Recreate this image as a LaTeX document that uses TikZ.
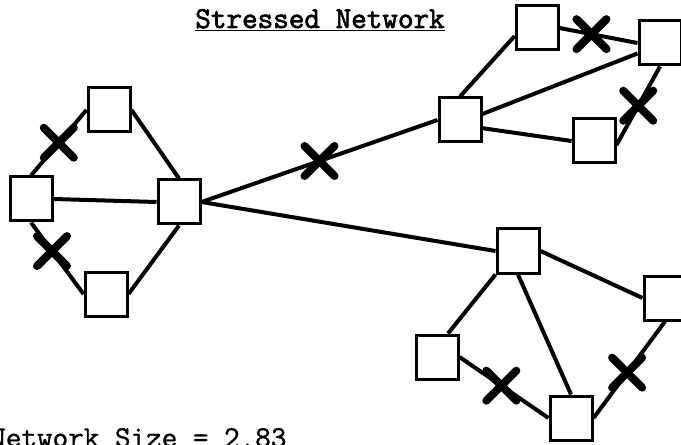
\documentclass[tikz,border=0pt]{standalone}
\usepackage{fontspec}
\newfontfamily\titlefont[FakeBold=2.2]{Latin Modern Mono}
\newfontfamily\notefont[FakeBold=1.2]{Latin Modern Mono}
\usetikzlibrary{shapes.misc}
\begin{document}
\begin{tikzpicture}[x=0.75pt,y=-0.75pt,
  site/.style={draw, line width=2.25pt, minimum width=31.5pt, minimum height=33pt, inner sep=0pt, fill=white},
  link/.style={line width=3pt},
  cut/.style={cross out, draw, line width=6pt, line cap=round, minimum size=16.5pt, inner sep=0pt},
  label/.style={inner sep=0pt}
  ]
\useasboundingbox (0,0) rectangle (681,445);
\clip (0,0) rectangle (681,445);

% left cluster
\node[site] (TL) at (109,110) {};
\node[site] (L)  at (31,199) {};
\node[site] (C)  at (179,202) {};
\node[site] (LB) at (106,294) {};

% upper right cluster
\node[site] (A)  at (537,28) {};
\node[site] (B)  at (660,43) {};
\node[site] (M)  at (460,120) {};
\node[site] (D)  at (594,141) {};

% lower right cluster
\node[site] (E)  at (518,251) {};
\node[site] (F)  at (665,298) {};
\node[site] (G)  at (437,357) {};
\node[site] (H)  at (571,418) {};

% links (stressed ones carry a cross)
\draw[link] (L.north) -- node[cut, pos=0.5] (x1) {} (TL.west);
\draw[link] (L.east) -- (C.west);
\draw[link] (L.south) -- node[cut, pos=0.4] (x2) {} (LB.west);
\draw[link] (TL.east) -- (C.north);
\draw[link] (LB.east) -- (C.south);

\draw[link] (C.east) -- node[cut, pos=0.5] (x3) {} (M.west);
\draw[link] (C.east) -- (E.west);

\draw[link] (M.north) -- (A.200);
\draw[link] (M.15) -- (B.205);
\draw[link] (M.340) -- (D.west);
\draw[link] (A.east) -- node[cut, pos=0.41] (x4) {} (B.west);
\draw[link] (D.350) -- node[cut, pos=0.5] (x5) {} (B.south);

\draw[link] (E.east) -- (F.west);
\draw[link] (E.south west) -- (G.65);
\draw[link] (E.south) -- (H.north);
\draw[link] (G.east) -- node[cut, pos=0.47] (x6) {} (H.west);
\draw[link] (H.east) -- node[cut, pos=0.47] (x7) {} (F.south);

% captions
\node[label, font=\titlefont\fontsize{22.7}{26}\selectfont, anchor=base] (title) at (320,28) {\underline{Stressed Network}};
\node[label, font=\notefont\fontsize{22.7}{26}\selectfont, anchor=base west] (size) at (-10,447) {Network Size = 2.83};
\end{tikzpicture}
\end{document}
